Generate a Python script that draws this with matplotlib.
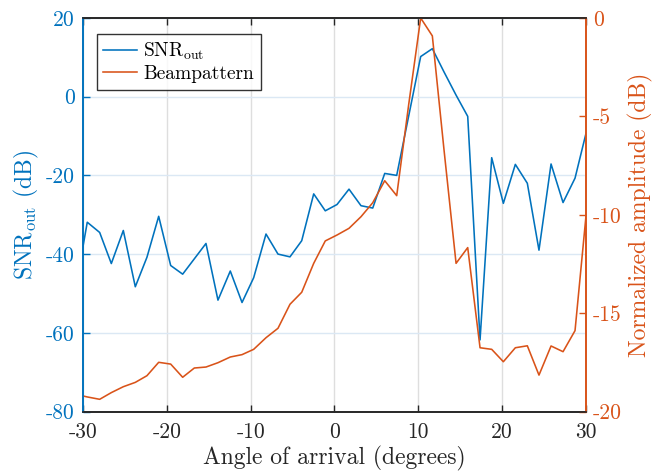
import matplotlib
matplotlib.use("Agg")
from matplotlib import pyplot as plt

# angle of arrival (degrees)
angles = [-30.0, -29.49, -28.01, -26.62, -25.19, -23.76, -22.37, -20.97, -19.54, -18.11,
          -16.72, -15.33, -13.90, -12.43, -11.03, -9.64, -8.17, -6.74, -5.31, -3.91,
          -2.48, -1.10, 0.30, 1.73, 3.16, 4.56, 5.99, 7.42, 8.85, 10.28,
          11.67, 13.06, 14.50, 15.89, 17.36, 18.75, 20.14, 21.57, 23.00, 24.39,
          25.83, 27.26, 28.69, 30.0]

# output SNR (dB)
snr_out = [-38.1, -31.9, -34.5, -42.4, -34.0, -48.3, -40.8, -30.4, -42.9, -45.1,
           -41.2, -37.3, -51.7, -44.3, -52.3, -46.0, -34.9, -40.0, -40.7, -36.6,
           -24.7, -29.0, -27.4, -23.5, -27.7, -28.3, -19.5, -20.0, -4.9, 10.2,
           12.2, 6.3, 0.4, -5.0, -61.8, -15.5, -27.1, -17.2, -22.0, -39.0,
           -17.1, -26.9, -20.7, -9.3]

# normalized beampattern (dB)
beampattern = [-19.21, -19.26, -19.38, -19.04, -18.74, -18.52, -18.18, -17.50, -17.59, -18.26,
               -17.79, -17.74, -17.52, -17.23, -17.11, -16.84, -16.25, -15.77, -14.55, -13.94,
               -12.47, -11.33, -11.03, -10.69, -10.10, -9.39, -8.27, -9.03, -4.40, 0.0,
               -0.91, -6.69, -12.47, -11.67, -16.76, -16.84, -17.47, -16.76, -16.66, -18.15,
               -16.67, -16.96, -15.89, -10.05]

blue = '#0072BD'
orange = '#D95319'
dark = '#262626'

plt.rcParams['font.family'] = 'serif'
plt.rcParams['font.serif'] = ['cmr10']
plt.rcParams['mathtext.fontset'] = 'cm'
plt.rcParams['axes.unicode_minus'] = False
plt.rcParams['axes.formatter.use_mathtext'] = False

fig = plt.figure(figsize=(6.66, 4.76), dpi=100)
ax = fig.add_axes([0.1246, 0.1355, 0.7553, 0.8267])
ax2 = ax.twinx()

l1, = ax.plot(angles, snr_out, color=blue, lw=1.15, label=r'SNR$_{\mathrm{out}}$')
l2, = ax2.plot(angles, beampattern, color=orange, lw=1.15, label='Beampattern')

ax.set_xlim(-30, 30)
ax.set_ylim(-80, 20)
ax2.set_ylim(-20, 0)
ax.set_xticks(range(-30, 31, 10))
ax.set_yticks(range(-80, 21, 20))
ax2.set_yticks(range(-20, 1, 5))

ax.xaxis.grid(True, color='#dedede', lw=1)
ax.yaxis.grid(True, color='#dbe8f4', lw=1)
ax.set_axisbelow(True)

ax.tick_params(axis='x', direction='in', top=True, length=5, width=1, colors=dark,
               labelsize=15.5, pad=8)
ax.tick_params(axis='y', direction='in', length=5, width=1, colors=blue,
               labelsize=15.5, pad=6)
ax2.tick_params(axis='y', direction='in', length=5, width=1, colors=orange,
                labelsize=15.5, pad=5)

for a in (ax, ax2):
    a.spines['top'].set_color(dark)
    a.spines['bottom'].set_color(dark)
    a.spines['left'].set_color(blue)
    a.spines['right'].set_color(orange)
    for s in a.spines.values():
        s.set_linewidth(1.2)

ax.set_xlabel('Angle of arrival (degrees)', fontsize=17, color=dark, labelpad=3)
ax.set_ylabel(r'SNR$_{\mathrm{out}}$ (dB)', fontsize=17, color=blue, labelpad=3)
ax2.set_ylabel('Normalized amplitude (dB)', fontsize=17, color=orange, labelpad=4)

leg = ax2.legend(handles=[l1, l2], loc='upper left', bbox_to_anchor=(0.027, 0.96),
                 fontsize=14, frameon=True, fancybox=False, borderpad=0.35,
                 handlelength=1.75, handletextpad=0.3, labelspacing=0.15,
                 borderaxespad=0)
leg.get_frame().set_edgecolor('black')
leg.get_frame().set_linewidth(1.0)

fig.savefig('out.png', dpi=100)
